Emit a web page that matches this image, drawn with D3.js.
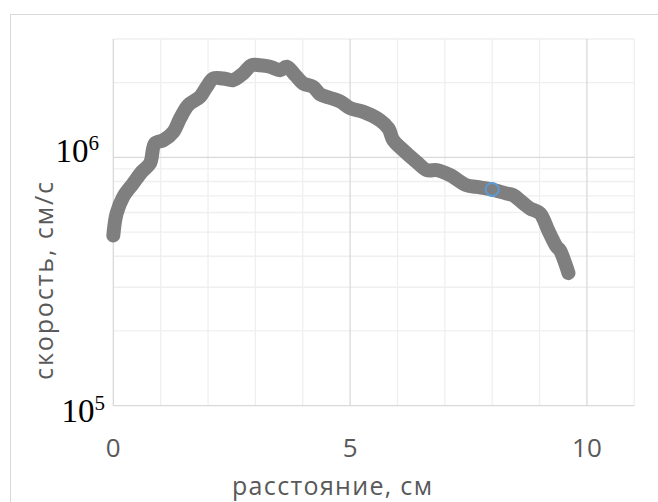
<!DOCTYPE html>
<html><head><meta charset="utf-8">
<script src="https://cdn.jsdelivr.net/npm/d3@7"></script>
<style>body{margin:0;background:#fff}svg{display:block}</style>
</head><body>
<svg id="c" width="658" height="502"></svg>
<script>
const distance = [0, 0.07, 0.21, 0.42, 0.60, 0.775, 0.88, 1.06, 1.27, 1.41, 1.58, 1.83, 1.97, 2.11, 2.32, 2.53, 2.74, 2.92, 3.10, 3.31, 3.52, 3.66, 3.84, 4.01, 4.22, 4.36, 4.57, 4.79, 5.0, 5.28, 5.63, 5.81, 5.91, 6.12, 6.40, 6.62, 6.83, 7.11, 7.46, 7.67, 7.99, 8.30, 8.44, 8.66, 8.80, 9.01, 9.18, 9.36, 9.43, 9.54, 9.61];
const velocity = [4.85e5, 5.95e5, 6.94e5, 7.86e5, 8.75e5, 9.46e5, 1.139e6, 1.174e6, 1.268e6, 1.436e6, 1.624e6, 1.754e6, 1.924e6, 2.08e6, 2.08e6, 2.05e6, 2.18e6, 2.353e6, 2.35e6, 2.32e6, 2.247e6, 2.32e6, 2.145e6, 1.986e6, 1.924e6, 1.80e6, 1.74e6, 1.68e6, 1.58e6, 1.526e6, 1.413e6, 1.308e6, 1.174e6, 1.07e6, 9.6e5, 8.89e5, 8.89e5, 8.49e5, 7.73e5, 7.61e5, 7.43e5, 7.16e5, 7.05e5, 6.53e5, 6.23e5, 5.95e5, 5.10e5, 4.37e5, 4.23e5, 3.75e5, 3.42e5];
const highlightX = [8];
const highlightY = [7.43e5];
const xTickLabels = [0, 5, 10];
const yTickExps = [5, 6];
const xTitle = "расстояние, см";
const yTitle = "скорость, см/с";

const svg = d3.select("#c");
const L = 113.3, R = 634.3, T = 39, B = 405.7;
const x = d3.scaleLinear().domain([0, 11]).range([L, R]);
const y = d3.scaleLog().domain([1e5, 3e6]).range([B, T]);

// chart border
svg.append("rect").attr("x", 10.5).attr("y", 14.5).attr("width", 700).attr("height", 600)
  .attr("fill", "#fff").attr("stroke", "#d9d9d9").attr("stroke-width", 1);

// minor gridlines
const g = svg.append("g");
const minorX = d3.range(1, 12).filter(v => v % 5 !== 0);
const minorY = [2e5,3e5,4e5,5e5,6e5,7e5,8e5,9e5,2e6,3e6];
g.selectAll(".mx").data(minorX).join("line")
  .attr("x1", d => x(d)).attr("x2", d => x(d)).attr("y1", T).attr("y2", B)
  .attr("stroke", "#efefef").attr("stroke-width", 1.3);
g.selectAll(".my").data(minorY).join("line")
  .attr("x1", L).attr("x2", R).attr("y1", d => y(d)).attr("y2", d => y(d))
  .attr("stroke", "#efefef").attr("stroke-width", 1.3);
// major gridlines
g.selectAll(".Mx").data([0, 5, 10]).join("line")
  .attr("x1", d => x(d)).attr("x2", d => x(d)).attr("y1", T).attr("y2", B)
  .attr("stroke", "#d9d9d9").attr("stroke-width", 1.3);
g.selectAll(".My").data([1e5, 1e6]).join("line")
  .attr("x1", L).attr("x2", R).attr("y1", d => y(d)).attr("y2", d => y(d))
  .attr("stroke", "#d9d9d9").attr("stroke-width", 1.3);

// x tick labels
svg.append("g").selectAll("text").data(xTickLabels).join("text")
  .attr("x", d => x(d)).attr("y", 457)
  .attr("text-anchor", "middle")
  .attr("font-family", "Open Sans, sans-serif").attr("font-size", 26)
  .attr("fill", "#595959").text(d => d);

// y tick labels (10^n)
const yl = svg.append("g");
const yOffsets = {5: {dx: 105, by: 422}, 6: {dx: 99, by: 162}};
yTickExps.forEach(e => {
  const t = yl.append("text")
    .attr("x", yOffsets[e].dx).attr("y", yOffsets[e].by)
    .attr("text-anchor", "end")
    .attr("font-family", "Liberation Serif, serif").attr("font-size", 33).attr("fill", "#000");
  t.append("tspan").text("10");
  t.append("tspan").attr("font-size", 21).attr("dy", -12).text(e);
});

// axis titles
svg.append("text").attr("x", 332).attr("y", 495).attr("text-anchor", "middle")
  .attr("font-family", "Open Sans, sans-serif").attr("font-size", 25).attr("fill", "#595959")
  .attr("textLength", 200).attr("lengthAdjust", "spacing")
  .text(xTitle);
svg.append("text").attr("transform", "translate(53,281) rotate(-90)").attr("text-anchor", "middle")
  .attr("font-family", "Open Sans, sans-serif").attr("font-size", 25).attr("fill", "#595959")
  .attr("textLength", 198).attr("lengthAdjust", "spacing")
  .text(yTitle);

// data line
const pts = distance.map((d, i) => [d, velocity[i]]);
svg.append("path").datum(pts)
  .attr("d", d3.line().x(d => x(d[0])).y(d => y(d[1])).curve(d3.curveCatmullRom.alpha(0.5)))
  .attr("fill", "none").attr("stroke", "#7f7f7f").attr("stroke-width", 14)
  .attr("stroke-linecap", "round").attr("stroke-linejoin", "round");

// highlighted point
svg.append("g").selectAll("circle").data(highlightX).join("circle")
  .attr("cx", d => x(d)).attr("cy", (d, i) => y(highlightY[i])).attr("r", 6.5)
  .attr("fill", "none").attr("stroke", "#5b9bd5").attr("stroke-width", 2);
</script>
</body></html>
